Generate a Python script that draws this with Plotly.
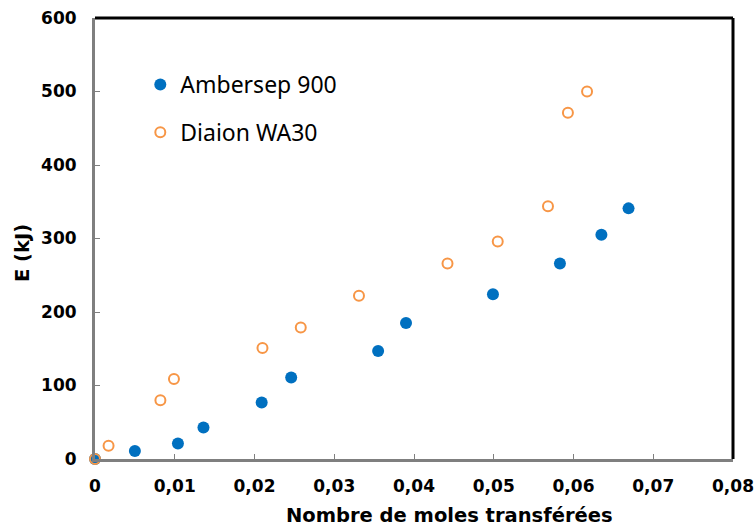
import plotly.graph_objects as go

# Ambersep 900 (filled blue)
amb_x = [0.0, 0.0050, 0.0104, 0.0136, 0.0209, 0.0246, 0.0355, 0.0390, 0.0499, 0.0583, 0.0635, 0.0669]
amb_y = [0, 11, 21, 43, 77, 111, 147, 185, 224, 266, 305, 341]

# Diaion WA30 (open orange)
dia_x = [0.0, 0.0017, 0.0082, 0.0099, 0.0210, 0.0258, 0.0331, 0.0442, 0.0505, 0.0568, 0.0593, 0.0617]
dia_y = [0, 18, 80, 109, 151, 179, 222, 266, 296, 344, 471, 500]

x_ticks = [0, 0.01, 0.02, 0.03, 0.04, 0.05, 0.06, 0.07, 0.08]
x_tick_labels = ["0", "0,01", "0,02", "0,03", "0,04", "0,05", "0,06", "0,07", "0,08"]
y_ticks = [0, 100, 200, 300, 400, 500, 600]
y_tick_labels = ["0", "100", "200", "300", "400", "500", "600"]

x_title = "Nombre de moles transférées"
y_title = "E (kJ)"

fig = go.Figure()
fig.add_trace(go.Scatter(
    x=amb_x, y=amb_y, mode="markers", name="Ambersep 900", legendgroup="a",
    marker=dict(symbol="circle", size=12, color="#0070C0"), cliponaxis=False))
fig.add_trace(go.Scatter(
    x=dia_x, y=dia_y, mode="markers", name="Diaion WA30", legendgroup="b",
    marker=dict(symbol="circle-open", size=10, color="#F79646", line=dict(width=2, color="#F79646")),
    cliponaxis=False))

bold = "DejaVu Sans"
tickfont = dict(family=bold, size=17, color="black", weight="bold")
titlefont = dict(family=bold, size=19.5, color="black", weight="bold")
fig.update_layout(
    width=756, height=528,
    margin=dict(l=95, r=23, t=18, b=69),
    paper_bgcolor="white", plot_bgcolor="white",
    showlegend=True,
    legend=dict(x=0.071, y=0.898, xanchor="left", yanchor="top",
                font=dict(family="Noto Sans", size=23, color="black"),
                tracegroupgap=15, itemwidth=30, bgcolor="rgba(0,0,0,0)"),
    xaxis=dict(range=[0, 0.08], tickvals=x_ticks, ticktext=x_tick_labels, automargin=False,
               showgrid=False, zeroline=False, showline=True, linecolor="#7f7f7f", linewidth=3,
               ticks="inside", ticklen=5, tickcolor="#7f7f7f", tickwidth=1,
               tickfont=tickfont, ticklabelstandoff=10),
    yaxis=dict(range=[0, 600], tickvals=y_ticks, ticktext=y_tick_labels, automargin=False,
               showgrid=False, zeroline=False, showline=True, linecolor="#7f7f7f", linewidth=3,
               ticks="inside", ticklen=5, tickcolor="#7f7f7f", tickwidth=1,
               tickfont=tickfont, ticklabelstandoff=12),
    annotations=[
        dict(text=x_title, xref="paper", yref="paper", x=(449 - 95) / 638, y=-(515 - 459) / 441,
             xanchor="center", yanchor="middle", showarrow=False, font=titlefont),
        dict(text=y_title, xref="paper", yref="paper", x=-(95 - 22) / 638, y=(459 - 253) / 441,
             xanchor="center", yanchor="middle", showarrow=False, textangle=-90, font=titlefont),
    ],
    shapes=[
        dict(type="line", xref="paper", yref="paper", x0=0, x1=1, y0=1, y1=1,
             line=dict(color="black", width=3)),
        dict(type="line", xref="paper", yref="paper", x0=1, x1=1, y0=0, y1=1,
             line=dict(color="black", width=3)),
    ],
)

fig.write_html("out.html", config={"displayModeBar": False},
               post_script="document.body.style.margin='0';document.body.style.overflow='hidden';")
